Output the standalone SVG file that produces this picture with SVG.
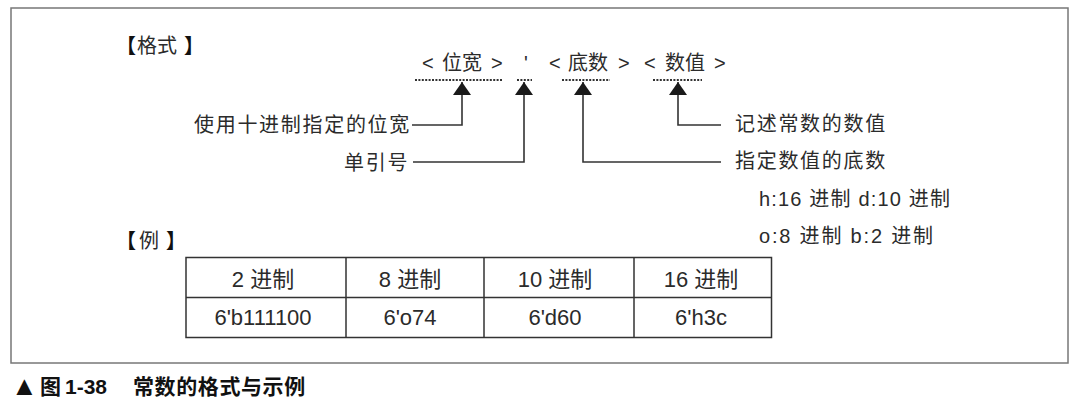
<svg xmlns="http://www.w3.org/2000/svg" width="1073" height="411" viewBox="0 0 1073 411">
<defs>
<style>
text{font-family:"Liberation Sans","Noto Sans CJK SC",sans-serif;fill:#2b2b2b;font-size:20px}
.lbl{letter-spacing:1.7px}
.cell{font-size:22px;text-anchor:middle}
.br{font-weight:bold;fill:#111}
.ln{fill:none;stroke:#333;stroke-width:1.6}
.dot{fill:none;stroke:#333;stroke-width:2.2;stroke-dasharray:2 1.4}
.cap{font-weight:bold;fill:#111;font-size:21px}
</style>
<marker id="arr" viewBox="0 0 13 18" refX="13" refY="9" markerWidth="13" markerHeight="18" markerUnits="userSpaceOnUse" orient="auto">
<path d="M0,0 L13,9 L0,18 z" fill="#1a1a1a"/>
</marker>
</defs>
<rect x="11" y="8" width="1057" height="355" fill="#fff" stroke="#777" stroke-width="1.5"/>

<g id="title-format"><text y="53" font-size="19"><tspan class="br" x="116">【</tspan><tspan x="137">格式</tspan><tspan class="br" x="184">】</tspan></text></g>

<g id="format">
<text y="70"><tspan x="422">&lt;</tspan><tspan x="442">位宽</tspan><tspan x="491">&gt;</tspan><tspan x="524">'</tspan><tspan x="549">&lt;</tspan><tspan x="568">底数</tspan><tspan x="618">&gt;</tspan><tspan x="644">&lt;</tspan><tspan x="665">数值</tspan><tspan x="714">&gt;</tspan></text>
<path class="dot" d="M415,80 H502 M517,80 H532 M562,80 H610 M653,80 H702"/>
</g>

<g id="label-width"><text class="lbl" x="194" y="132">使用十进制指定的位宽</text></g>
<g id="label-quote"><text class="lbl" x="344" y="170">单引号</text></g>
<g id="label-value"><text class="lbl" x="735" y="131">记述常数的数值</text></g>
<g id="label-base"><text class="lbl" x="735" y="168">指定数值的底数</text></g>
<g id="base-notes">
<text x="759" y="206" textLength="191" lengthAdjust="spacing">h:16 进制 d:10 进制</text>
<text x="759" y="243" textLength="174" lengthAdjust="spacing">o:8 进制 b:2 进制</text>
</g>

<g id="connectors">
<path class="ln" d="M412,125 H462 V82" marker-end="url(#arr)"/>
<path class="ln" d="M413,162 H524 V82" marker-end="url(#arr)"/>
<path class="ln" d="M721,162 H583 V82" marker-end="url(#arr)"/>
<path class="ln" d="M721,125 H678 V82" marker-end="url(#arr)"/>
</g>

<g id="title-example"><text y="248" font-size="19"><tspan class="br" x="116">【</tspan><tspan x="139">例</tspan><tspan class="br" x="166">】</tspan></text></g>

<g id="table">
<rect x="186" y="257.5" width="585.5" height="80" fill="none" stroke="#333" stroke-width="1.5"/>
<path d="M186,297.5 H771.5 M346,257.5 V337.5 M484,257.5 V337.5 M634,257.5 V337.5" fill="none" stroke="#333" stroke-width="1.5"/>
<text class="cell" x="263" y="287">2 进制</text>
<text class="cell" x="410" y="287">8 进制</text>
<text class="cell" x="555" y="287">10 进制</text>
<text class="cell" x="701" y="287">16 进制</text>
<text class="cell" x="263" y="325">6'b111100</text>
<text class="cell" x="410" y="325">6'o74</text>
<text class="cell" x="555" y="325">6'd60</text>
<text class="cell" x="701" y="325">6'h3c</text>
</g>

<g id="caption"><text class="cap" y="394"><tspan x="11" y="395" font-size="27">▲</tspan><tspan x="40" y="394">图</tspan><tspan x="65">1-38</tspan><tspan x="133" letter-spacing="0.6">常数的格式与示例</tspan></text></g>
</svg>
